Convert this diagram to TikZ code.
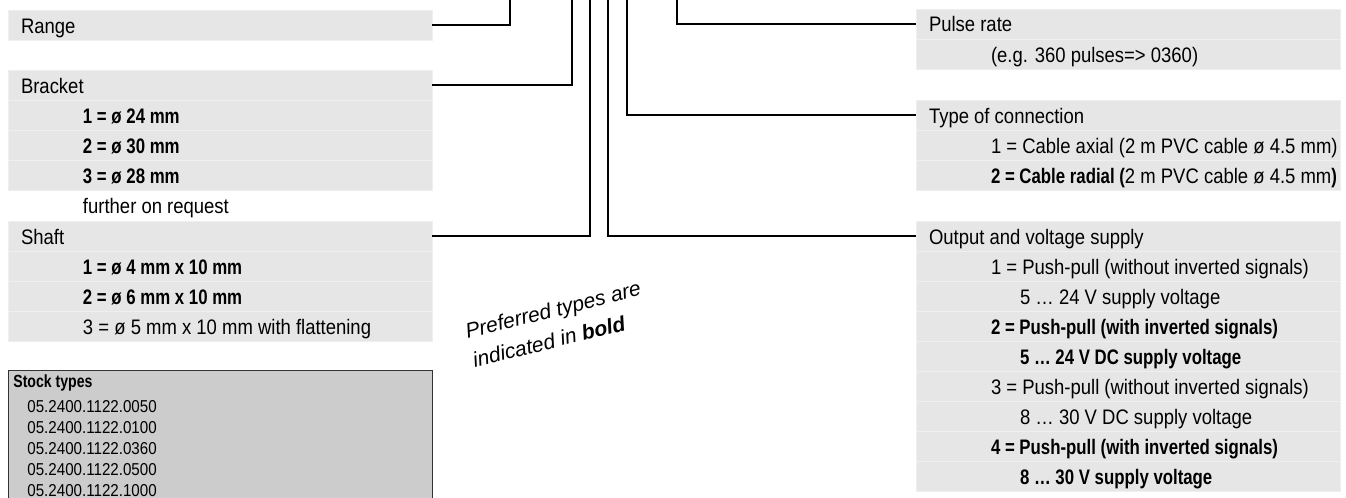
\documentclass[tikz,border=0pt]{standalone}
\usepackage{fontspec}
\setmainfont{Liberation Sans}[FakeStretch=0.88, BoldFeatures={FakeStretch=0.80}]
\newfontfamily\notefont{Liberation Sans}
\usepackage{xcolor}
\definecolor{grisFond}{HTML}{E6E6E6}
\definecolor{grisFilet}{HTML}{EFEFEF}
\definecolor{grisStock}{HTML}{CCCCCC}
\definecolor{grisBord}{HTML}{333333}
\usetikzlibrary{positioning}
\newcommand{\retrait}{\hspace*{31pt}}
\newcommand{\retraitB}{\hspace*{45.5pt}}
\tikzset{
  %% -- Champs ---------------------------------------------------------
  %% One row of a field box: 30 px high, text held on one line.
  champ/.style      = {fill=grisFond, draw=grisFilet, line width=0.5pt,
                       anchor=north west, inner sep=0pt, outer sep=0pt,
                       text height=11.5pt, text depth=3.5pt,
                       font=\fontsize{10.5pt}{15pt}\selectfont,
                       execute at begin node={\hbox to 212pt\bgroup\hskip6.5pt},
                       execute at end node={\hfil\egroup}},
  champVide/.style  = {champ, fill=none, draw=none},
  %%
  %% -- Stock ----------------------------------------------------------
  cadreStock/.style = {fill=grisStock, draw=grisBord, line width=0.7pt,
                       anchor=north west, inner sep=0pt,
                       minimum width=212pt, minimum height=80pt},
  ligneStock/.style = {anchor=base west, inner sep=0pt,
                       font=\fontsize{8.6pt}{10.5pt}\selectfont},
  titreStock/.style = {ligneStock, font=\fontsize{8.8pt}{10.5pt}\selectfont\bfseries},
  %%
  %% -- Traits et note -------------------------------------------------
  trait/.style      = {draw=black, line width=1pt},
  note/.style       = {anchor=west, rotate=14, align=left, inner sep=0pt,
                       font=\notefont\itshape\fontsize{10.5pt}{15pt}\selectfont},
}

\begin{document}
\begin{tikzpicture}[x=0.5pt, y=-0.5pt]

\path[use as bounding box] (0,0) rectangle (1346,498);
\clip (0,0) rectangle (1346,498);

%% Les champs de gauche.
\node[champ] (rng) at (8,10) {Range};

\node[champ] (brk0) at (8,70)  {Bracket};
\node[champ] (brk1) at (8,100) {\retrait\textbf{1 = ø 24 mm}};
\node[champ] (brk2) at (8,130) {\retrait\textbf{2 = ø 30 mm}};
\node[champ] (brk3) at (8,160) {\retrait\textbf{3 = ø 28 mm}};
\node[champVide] (brk4) at (8,190) {\retrait further on request};

\node[champ] (sft0) at (8,221) {Shaft};
\node[champ] (sft1) at (8,251) {\retrait\textbf{1 = ø 4 mm x 10 mm}};
\node[champ] (sft2) at (8,281) {\retrait\textbf{2 = ø 6 mm x 10 mm}};
\node[champ] (sft3) at (8,311) {\retrait 3 = ø 5 mm x 10 mm with flattening};

%% Les champs de droite.
\node[champ] (pls0) at (916,9)  {Pulse rate};
\node[champ] (pls1) at (916,39) {\retrait (e.g. 360 pulses=> 0360)};

\node[champ] (cnx0) at (916,100) {Type of connection};
\node[champ] (cnx1) at (916,130) {\retrait 1 = Cable axial (2 m PVC cable ø 4.5 mm)};
\node[champ] (cnx2) at (916,160)
     {\retrait\textbf{2 = Cable radial (}2 m PVC cable ø 4.5 mm\textbf{)}};

\node[champ] (out0) at (916,221) {Output and voltage supply};
\node[champ] (out1) at (916,251) {\retrait 1 = Push-pull (without inverted signals)};
\node[champ] (out2) at (916,281) {\retraitB 5 … 24 V supply voltage};
\node[champ] (out3) at (916,311) {\retrait\textbf{2 = Push-pull (with inverted signals)}};
\node[champ] (out4) at (916,341) {\retraitB\textbf{5 … 24 V DC supply voltage}};
\node[champ] (out5) at (916,371) {\retrait 3 = Push-pull (without inverted signals)};
\node[champ] (out6) at (916,401) {\retraitB 8 … 30 V DC supply voltage};
\node[champ] (out7) at (916,431) {\retrait\textbf{4 = Push-pull (with inverted signals)}};
\node[champ] (out8) at (916,461) {\retraitB\textbf{8 … 30 V supply voltage}};

%% Les traits vers le code, coupes en haut.
\coordinate (hRng) at (510,0);
\coordinate (hBrk) at (572,0);
\coordinate (hSft) at (590,0);
\coordinate (hOut) at (608,0);
\coordinate (hCnx) at (627,0);
\coordinate (hPls) at (677,0);

\draw[trait] (rng.east)  -| (hRng);
\draw[trait] (brk0.east) -| (hBrk);
\draw[trait] (sft0.east) -| (hSft);
\draw[trait] (out0.west) -| (hOut);
\draw[trait] (cnx0.west) -| (hCnx);
\draw[trait] (pls0.west) -| (hPls);

%% Types en stock.
\node[cadreStock] (stock) at (8,370) {};
\node[titreStock] (stockTitre) at (13,387) {Stock types};
\foreach \n [count=\i] in {0050, 0100, 0360, 0500, 1000}
  \node[ligneStock] (ref\i) at (27,391+21*\i) {05.2400.1122.\n};

\node[note] (note) at (469,346) {Preferred types are\\indicated in \textbf{bold}};

\end{tikzpicture}
\end{document}
